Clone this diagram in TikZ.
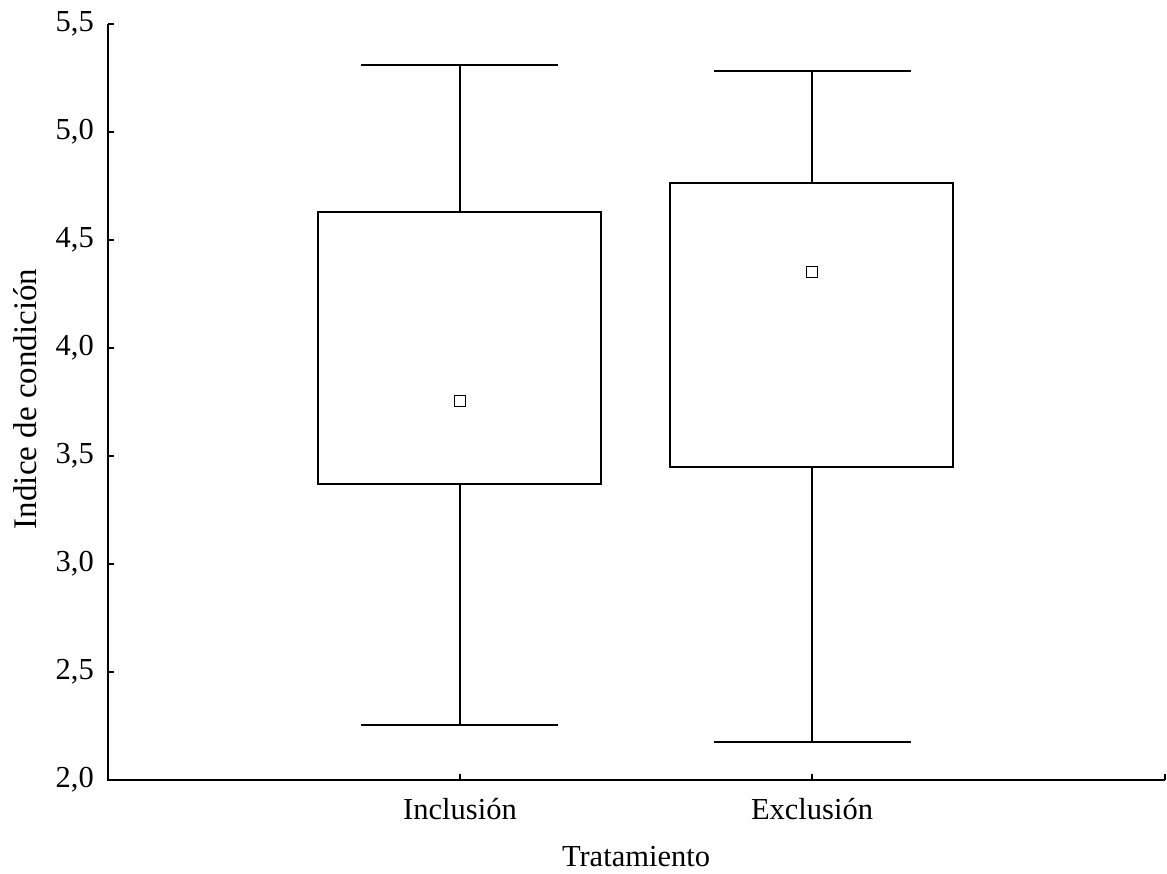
\documentclass[tikz,border=0pt]{standalone}
\usepackage{fontspec}
\setmainfont{Liberation Serif}
\usetikzlibrary{positioning}

\tikzset{
  axisline/.style={line width=2pt, black},
  boxline/.style={line width=1.6pt, black},
  meanmark/.style={draw, line width=1.3pt, rectangle, minimum size=11pt, inner sep=0pt, fill=white},
  ticklabel/.style={font=\fontsize{30.5}{36}\selectfont, inner sep=0pt}
}

\begin{document}
\begin{tikzpicture}[x=1pt, y=216pt]
\useasboundingbox (0,1.5648) rectangle (1167,5.6111);
% Axes
\draw[axisline] (108,5.5) -- (108,2.0) -- (1165,2.0);
\draw[axisline] (108,5.5) -- (114,5.5);
\draw[axisline] (1165,2.0) -- (1165,2.03);
% Y ticks and labels
\foreach \v/\a/\b in {2.0/2/0, 2.5/2/5, 3.0/3/0, 3.5/3/5, 4.0/4/0, 4.5/4/5, 5.0/5/0, 5.5/5/5} {
  \draw[axisline] (108,\v) -- (114,\v);
  \node[ticklabel, anchor=east] (ylab\a\b) at (94,\v) {\a,\b};
}
% X ticks and labels
\foreach \x/\t/\n in {460/Inclusión/inc, 812/Exclusión/exc} {
  \draw[axisline] (\x,2.0) -- (\x,2.03);
  \node[ticklabel] (xlab\n) at (\x,1.865) {\t};
}
\node[ticklabel] (xtitle) at (636,1.6435) {Tratamiento};
\node[ticklabel, font=\fontsize{33}{38}\selectfont, rotate=90] (ytitle) at (25,3.764) {Indice de condición};
% Box 1: Inclusion
\draw[boxline] (318,3.370) rectangle (601,4.630);
\draw[boxline] (460,4.630) -- (460,5.310);
\draw[boxline] (361,5.310) -- (558,5.310);
\draw[boxline] (460,3.370) -- (460,2.255);
\draw[boxline] (361,2.255) -- (558,2.255);
\node[meanmark] (meaninc) at (460,3.755) {};
% Box 2: Exclusion
\draw[boxline] (670,3.449) rectangle (953,4.764);
\draw[boxline] (812,4.764) -- (812,5.282);
\draw[boxline] (714,5.282) -- (911,5.282);
\draw[boxline] (812,3.449) -- (812,2.176);
\draw[boxline] (714,2.176) -- (911,2.176);
\node[meanmark] (meanexc) at (812,4.352) {};
\end{tikzpicture}
\end{document}
